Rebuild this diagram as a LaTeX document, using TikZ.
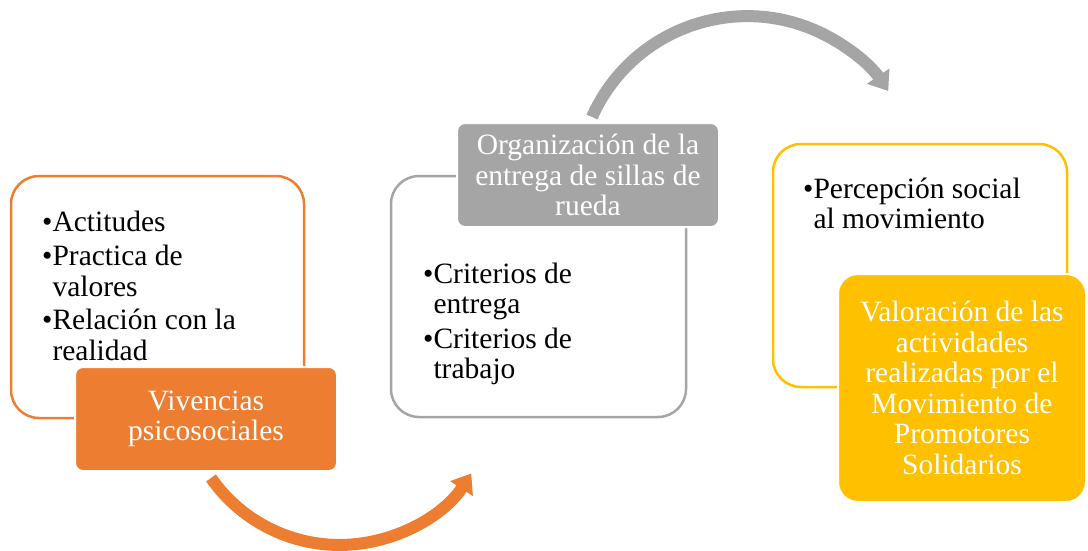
\documentclass[tikz,border=0pt]{standalone}
\usepackage{fontspec}
\setmainfont{Liberation Serif}
\usetikzlibrary{arrows.meta}
\definecolor{naranja}{HTML}{ED7D31}
\definecolor{gris}{HTML}{A5A5A5}
\definecolor{amarillo}{HTML}{FFC000}

\begin{document}
\begin{tikzpicture}[x=1pt,y=-1pt,
    marco/.style={line width=2.5pt,rounded corners=28pt},
    caja/.style={draw=white,line width=2pt,rounded corners=8pt,text=white,align=center,
      font=\fontsize{29.5}{30.5}\selectfont,minimum width=262pt,minimum height=104pt},
    lista/.style={anchor=base west,inner sep=0pt,text width=260pt,align=flush left,
      font=\fontsize{29.5}{30.5}\selectfont},
    flecha/.style={line width=12pt,-{Triangle[length=18pt,width=26pt]}}]
  \useasboundingbox (0,0) rectangle (1088,550);
  % marcos
  \draw [marco,naranja] (11,176) rectangle (304,418);
  \draw [marco,gris] (391,176) rectangle (686,417);
  \draw [marco,amarillo] (773,144) rectangle (1067,387);
  % listas
  \node [lista] (actitudes) at (42,231) {\textbullet Actitudes\\[4pt]
    \textbullet Practica de\\ \hphantom{\textbullet}valores\\[3pt]
    \textbullet Relación con la\\ \hphantom{\textbullet}realidad};
  \node [lista] (criterios) at (423,283) {\textbullet Criterios de\\ \hphantom{\textbullet}entrega\\[4pt]
    \textbullet Criterios de\\ \hphantom{\textbullet}trabajo};
  \node [lista] (percepcion) at (803,198) {\textbullet Percepción social\\ \hphantom{\textbullet}al movimiento};
  % cajas
  \node [caja,fill=naranja] (viv) at (206,419) {Vivencias\\psicosociales};
  \node [caja,fill=gris] (org) at (588,175) {Organización de la\\entrega de sillas de\\rueda};
  \node [caja,fill=amarillo,minimum width=248pt,minimum height=228pt,rounded corners=20pt] (val) at (962,388)
    {Valoración de las\\actividades\\realizadas por el\\Movimiento de\\Promotores\\Solidarios};
  % flechas
  \draw [flecha,naranja] ([shift={(5,6)}]viv.south) arc [start angle=145,end angle=33,radius=157];
  \draw [flecha,gris] ([shift={(4,-5)}]org.north) arc [start angle=204,end angle=326,radius=170];
\end{tikzpicture}
\end{document}
